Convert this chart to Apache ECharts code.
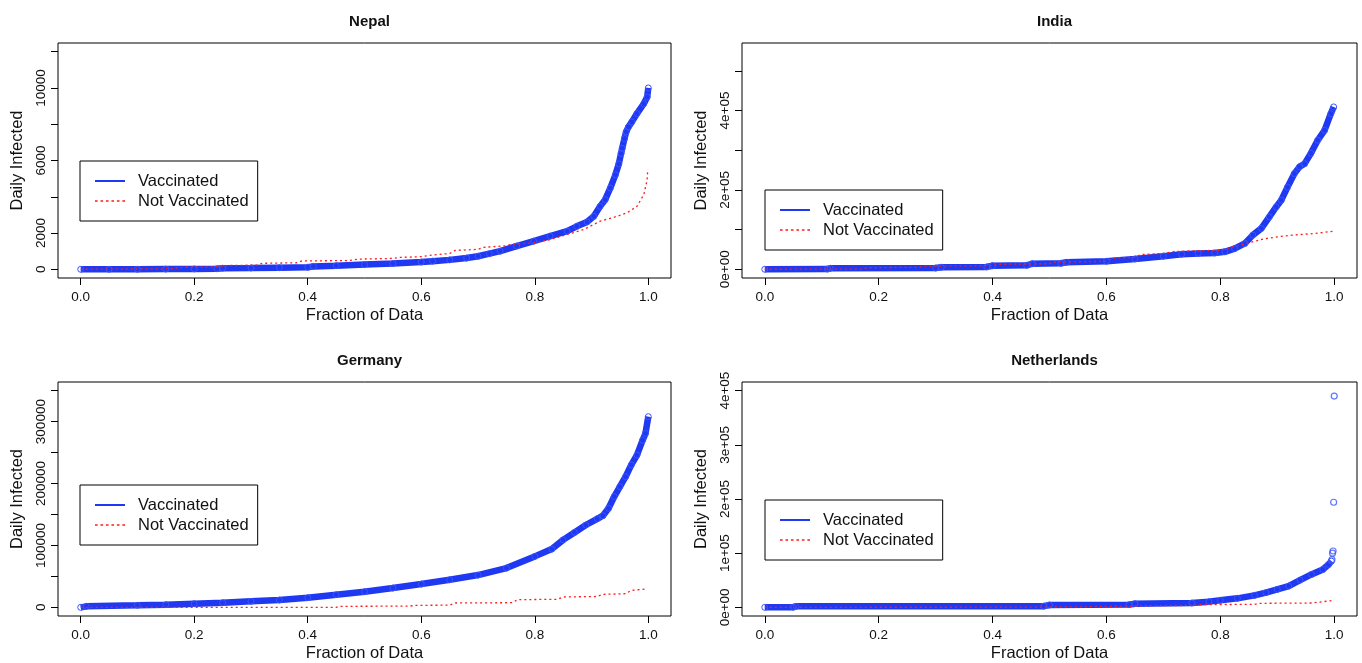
<!DOCTYPE html>
<html><head><meta charset="utf-8">
<script src="https://cdn.jsdelivr.net/npm/echarts@6/dist/echarts.min.js"></script>
<style>html,body{margin:0;padding:0;background:#fff}#c{width:1362px;height:663px}</style>
</head><body><div id="c"></div>
<script>
// ---------- data ----------
const xTicks = [0, 0.2, 0.4, 0.6, 0.8, 1.0];
const xTickLabels = ['0.0', '0.2', '0.4', '0.6', '0.8', '1.0'];

const nepalYTicks = [0, 2000, 4000, 6000, 8000, 10000, 12000];
const nepalYLabelVals = [0, 2000, 6000, 10000];
const nepalYLabels = ['0', '2000', '6000', '10000'];
const indiaYTicks = [0, 100000, 200000, 300000, 400000, 500000];
const indiaYLabelVals = [0, 200000, 400000];
const indiaYLabels = ['0e+00', '2e+05', '4e+05'];
const germanyYTicks = [0, 50000, 100000, 150000, 200000, 250000, 300000, 350000];
const germanyYLabelVals = [0, 100000, 200000, 300000];
const germanyYLabels = ['0', '100000', '200000', '300000'];
const nlYTicks = [0, 100000, 200000, 300000, 400000];
const nlYLabelVals = [0, 100000, 200000, 300000, 400000];
const nlYLabels = ['0e+00', '1e+05', '2e+05', '3e+05', '4e+05'];

const nepalVacX = [0, 0.05, 0.10, 0.15, 0.20, 0.24, 0.25, 0.30, 0.35, 0.40, 0.41, 0.45, 0.50, 0.55, 0.60, 0.62, 0.65, 0.68, 0.70, 0.72, 0.739, 0.768, 0.798, 0.827, 0.857, 0.874, 0.892, 0.904, 0.915, 0.924, 0.933, 0.942, 0.948, 0.952, 0.954, 0.958, 0.961, 0.965, 0.971, 0.980, 0.992, 0.998, 1.0];
const nepalVacY = [0, 0, 0, 10, 20, 30, 60, 70, 90, 110, 160, 200, 260, 320, 400, 450, 520, 620, 720, 860, 1000, 1280, 1550, 1830, 2100, 2370, 2610, 2920, 3470, 3840, 4480, 5210, 5810, 6390, 6670, 7210, 7580, 7850, 8130, 8590, 9130, 9500, 10000];
const nepalNotX = [0, 0.16, 0.18, 0.24, 0.26, 0.31, 0.32, 0.38, 0.39, 0.47, 0.49, 0.55, 0.56, 0.60, 0.62, 0.65, 0.66, 0.70, 0.71, 0.75, 0.76, 0.798, 0.827, 0.857, 0.886, 0.915, 0.945, 0.962, 0.980, 0.992, 0.998, 0.999];
const nepalNotY = [0, 30, 110, 130, 210, 230, 330, 360, 460, 480, 560, 600, 650, 700, 790, 870, 1040, 1100, 1210, 1300, 1380, 1460, 1640, 1920, 2190, 2650, 2920, 3110, 3470, 4110, 4930, 5520];

const indiaVacX = [0, 0.11, 0.115, 0.30, 0.31, 0.39, 0.40, 0.46, 0.47, 0.52, 0.53, 0.60, 0.65, 0.70, 0.732, 0.761, 0.79, 0.808, 0.825, 0.843, 0.857, 0.872, 0.886, 0.898, 0.907, 0.918, 0.930, 0.939, 0.948, 0.959, 0.971, 0.983, 0.994, 0.999];
const indiaVacY = [0, 500, 2500, 3000, 5000, 6000, 9000, 10000, 14000, 15000, 17500, 20000, 26000, 33000, 38000, 40000, 41000, 44000, 52000, 65000, 86000, 103000, 132000, 157000, 174000, 207000, 241000, 258000, 266000, 292000, 325000, 350000, 392000, 409000];
const indiaNotX = [0, 0.17, 0.18, 0.27, 0.28, 0.40, 0.41, 0.50, 0.51, 0.60, 0.61, 0.65, 0.66, 0.70, 0.72, 0.80, 0.81, 0.843, 0.878, 0.907, 0.936, 0.965, 0.999];
const indiaNotY = [0, 500, 4000, 5000, 8000, 9000, 12500, 14000, 18000, 20000, 28000, 30000, 37000, 40000, 45000, 48000, 52000, 64000, 77000, 83000, 87000, 90000, 96000];

const germanyVacX = [0, 0.01, 0.10, 0.15, 0.20, 0.25, 0.30, 0.35, 0.40, 0.45, 0.50, 0.55, 0.60, 0.65, 0.70, 0.75, 0.80, 0.83, 0.85, 0.87, 0.89, 0.91, 0.92, 0.93, 0.94, 0.95, 0.96, 0.97, 0.98, 0.99, 0.995, 1.0];
const germanyVacY = [0, 1600, 3200, 4300, 5900, 7500, 9700, 11800, 15600, 20400, 25300, 31200, 37600, 44600, 52100, 63400, 82300, 94100, 109000, 121000, 133000, 143000, 148000, 160000, 179000, 195000, 211000, 230000, 246000, 270000, 281000, 308000];
const germanyNotX = [0, 0.45, 0.455, 0.58, 0.59, 0.65, 0.66, 0.76, 0.77, 0.84, 0.85, 0.91, 0.92, 0.96, 0.97, 0.995];
const germanyNotY = [0, 0, 1600, 2000, 3200, 3500, 7000, 7500, 12400, 13000, 16700, 17500, 21000, 22000, 27400, 29600];

const nlVacX = [0, 0.05, 0.055, 0.49, 0.50, 0.64, 0.65, 0.75, 0.78, 0.80, 0.83, 0.86, 0.88, 0.90, 0.92, 0.94, 0.96, 0.98, 0.99, 0.995];
const nlVacY = [0, 300, 1800, 2200, 4300, 5000, 6700, 8000, 10500, 12900, 16600, 22100, 27000, 33100, 39300, 50300, 60700, 69900, 79100, 85300];
const nlVacOutX = [0.996, 0.997, 0.998, 0.999, 1.0];
const nlVacOutY = [88000, 100000, 104000, 194000, 390000];
const nlNotX = [0, 0.50, 0.51, 0.57, 0.58, 0.65, 0.66, 0.75, 0.76, 0.86, 0.87, 0.96, 0.97, 0.995];
const nlNotY = [0, 300, 600, 1000, 1800, 2200, 3100, 3500, 4900, 5500, 7400, 8000, 9200, 12300];

// ---------- chart ----------
const FONT = "'Liberation Sans', Arial, sans-serif";
const BLUE = '#1f38f2';
const CIRC = '#3a55ff';
const RED = '#ff1a1a';
const zip = (a, b) => a.map((v, i) => [v, b[i]]);

const panels = [
  {title: 'Nepal', grid: {left: 58, top: 43, width: 613, height: 235}, ymin: -480, ymax: 12480,
   yTicks: nepalYTicks, yLV: nepalYLabelVals, yL: nepalYLabels,
   vac: zip(nepalVacX, nepalVacY), not: zip(nepalNotX, nepalNotY), out: null, legend: [80, 161]},
  {title: 'India', grid: {left: 742, top: 43, width: 615, height: 235}, ymin: -22000, ymax: 570000,
   yTicks: indiaYTicks, yLV: indiaYLabelVals, yL: indiaYLabels,
   vac: zip(indiaVacX, indiaVacY), not: zip(indiaNotX, indiaNotY), out: null, legend: [765, 190]},
  {title: 'Germany', grid: {left: 58, top: 382, width: 613, height: 234}, ymin: -14000, ymax: 364000,
   yTicks: germanyYTicks, yLV: germanyYLabelVals, yL: germanyYLabels,
   vac: zip(germanyVacX, germanyVacY), not: zip(germanyNotX, germanyNotY), out: null, legend: [80, 485]},
  {title: 'Netherlands', grid: {left: 742, top: 382, width: 615, height: 234}, ymin: -16000, ymax: 416000,
   yTicks: nlYTicks, yLV: nlYLabelVals, yL: nlYLabels,
   vac: zip(nlVacX, nlVacY), not: zip(nlNotX, nlNotY), out: zip(nlVacOutX, nlVacOutY), legend: [765, 500]}
];

const DOTS = 'path://M0,0H2.4V1.4H0Z M5,0H7.4V1.4H5Z M10,0H12.4V1.4H10Z M15,0H17.4V1.4H15Z M20,0H22.4V1.4H20Z M25,0H27.4V1.4H25Z';

const option = {
  animation: false,
  backgroundColor: '#fff',
  textStyle: {fontFamily: FONT},
  title: panels.map(p => ({
    text: p.title, left: p.grid.left + p.grid.width / 2, top: p.grid.top - 34, textAlign: 'center',
    textStyle: {fontFamily: FONT, fontSize: 15, fontWeight: 'bold', color: '#111'}
  })),
  grid: panels.map(p => Object.assign({show: true, borderColor: '#000', borderWidth: 1, backgroundColor: 'transparent'}, p.grid)),
  legend: panels.map(p => ({
    orient: 'vertical', left: p.legend[0], top: p.legend[1], selectedMode: false,
    data: [{name: 'Vaccinated', icon: 'path://M0,0H30V2H0Z', itemStyle: {color: BLUE, borderWidth: 0}},
           {name: 'Not Vaccinated', icon: DOTS, itemStyle: {color: RED, borderWidth: 0}}],
    itemWidth: 30, itemHeight: 14, itemGap: 0, padding: [10, 9, 10, 15],
    borderColor: '#000', borderWidth: 1, backgroundColor: '#fff',
    textStyle: {fontFamily: FONT, fontSize: 16.5, lineHeight: 20, color: '#111', padding: [0, 0, 0, 8]}
  })),
  xAxis: panels.map((p, i) => ({
    type: 'value', gridIndex: i, min: -0.04, max: 1.04, position: 'bottom',
    splitLine: {show: false}, axisLine: {show: false, onZero: false},
    axisTick: {show: true, length: 7, customValues: xTicks, lineStyle: {color: '#000'}},
    axisLabel: {customValues: xTicks, formatter: v => xTickLabels[xTicks.findIndex(t => Math.abs(t - v) < 1e-9)],
                margin: 12, fontSize: 13.5, color: '#111', fontFamily: FONT},
    name: 'Fraction of Data', nameLocation: 'middle', nameGap: 29,
    nameTextStyle: {fontSize: 16.5, color: '#111', fontFamily: FONT, verticalAlign: 'top'}
  })),
  yAxis: panels.map((p, i) => ({
    type: 'value', gridIndex: i, min: p.ymin, max: p.ymax, position: 'left',
    splitLine: {show: false}, axisLine: {show: false, onZero: false},
    axisTick: {show: true, length: 7, customValues: p.yTicks, lineStyle: {color: '#000'}},
    axisLabel: {customValues: p.yLV, formatter: v => p.yL[p.yLV.indexOf(v)], rotate: 90,
                margin: 10, fontSize: 13.5, color: '#111', fontFamily: FONT},
    name: 'Daily Infected', nameLocation: 'middle', nameGap: 32,
    nameTextStyle: {fontSize: 16.5, color: '#111', fontFamily: FONT}
  })),
  series: []
};

panels.forEach((p, i) => {
  option.series.push({
    type: 'line', name: 'Vaccinated', xAxisIndex: i, yAxisIndex: i, data: p.vac,
    symbol: 'circle', symbolSize: 6, showSymbol: true, showAllSymbol: true, silent: true,
    lineStyle: {color: BLUE, width: 6.5},
    itemStyle: {color: 'rgba(0,0,0,0)', borderColor: CIRC, borderWidth: 1}, z: 2
  });
  if (p.out) {
    option.series.push({
      type: 'scatter', name: 'Vaccinated', xAxisIndex: i, yAxisIndex: i, data: p.out,
      symbol: 'circle', symbolSize: 6, silent: true,
      itemStyle: {color: 'rgba(0,0,0,0)', borderColor: CIRC, borderWidth: 1.2}, z: 2
    });
  }
  option.series.push({
    type: 'line', name: 'Not Vaccinated', xAxisIndex: i, yAxisIndex: i, data: p.not,
    symbol: 'none', silent: true,
    lineStyle: {color: RED, width: 1.3, type: [2, 3]}, z: 3
  });
});

const chart = echarts.init(document.getElementById('c'), null, {renderer: 'canvas'});
chart.setOption(option);
</script></body></html>
